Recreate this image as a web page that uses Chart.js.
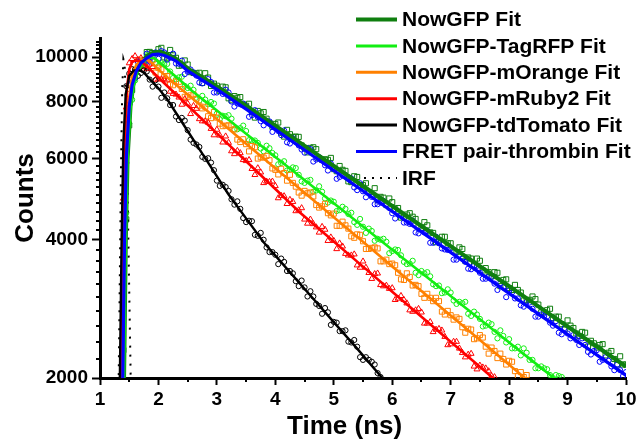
<!DOCTYPE html>
<html><head><meta charset="utf-8">
<script src="https://cdn.jsdelivr.net/npm/chart.js@4.4.1/dist/chart.umd.min.js"></script>
<style>html,body{margin:0;padding:0;background:#fff}#wrap{width:636px;height:445px}</style>
</head><body><div id="wrap"><canvas id="c" width="636" height="445"></canvas></div>
<script>
// ---------- data ----------
const timeNs = [1.4,1.5,1.6,1.7,1.8,1.9,2.0,2.1,2.2,2.3,2.4,2.5,2.6,2.7,2.8,2.9,3.0,3.1,3.2,3.3,3.4,3.5,3.6,3.7,3.8,3.9,4.0,4.1,4.2,4.3,4.4,4.5,4.6,4.7,4.8,4.9,5.0,5.1,5.2,5.3,5.4,5.5,5.6,5.7,5.8,5.9,6.0,6.1,6.2,6.3,6.4,6.5,6.6,6.7,6.8,6.9,7.0,7.1,7.2,7.3,7.4,7.5,7.6,7.7,7.8,7.9,8.0,8.1,8.2,8.3,8.4,8.5,8.6,8.7,8.8,8.9,9.0,9.1,9.2,9.3,9.4,9.5,9.6,9.7,9.8,9.9,10.0];
const timeNsHalf = [1.45,1.55,1.65,1.75,1.85,1.95,2.05,2.15,2.25,2.35,2.45,2.55,2.65,2.75,2.85,2.95,3.05,3.15,3.25,3.35,3.45,3.55,3.65,3.75,3.85,3.95,4.05,4.15,4.25,4.35,4.45,4.55,4.65,4.75,4.85,4.95,5.05,5.15,5.25,5.35,5.45,5.55,5.65,5.75,5.85,5.95,6.05,6.15,6.25,6.35,6.45,6.55,6.65,6.75,6.85,6.95,7.05,7.15,7.25,7.35,7.45,7.55,7.65,7.75,7.85,7.95,8.05,8.15,8.25,8.35,8.45,8.55,8.65,8.75,8.85,8.95,9.05,9.15,9.25,9.35,9.45,9.55,9.65,9.75,9.85,9.95];

const nowGFPCounts = [2300,7100,9250,9650,10250,10200,10400,9980,10360,9960,
 9590,9630,9230,9240,9220,8650,8660,8620,8130,8220,
 8180,7830,7600,7630,7590,7190,7150,6840,6940,6700,
 6700,6340,6340,6300,5970,5970,5700,5790,5650,5340,
 5480,5260,5080,5180,4960,4760,4830,4690,4490,4570,
 4440,4240,4300,4140,3990,4060,3930,3760,3820,3660,
 3520,3600,3470,3330,3390,3270,3140,3190,3070,2950,
 3010,2890,2780,2830,2720,2620,2670,2570,2470,2510,
 2410,2330,2370,2270,2200,2230,2140];
const nowGFPCountsHalf = [4430,8480,9480,9620,10260,10190,10470,9940,10080,9570,
 9830,9270,9210,8780,9020,8750,8440,8590,8050,8150,
 7880,7910,7380,7540,7340,7050,7200,6710,6790,6710,
 6420,6200,6360,6020,5990,6030,5640,5680,5360,5500,
 5260,5310,5010,4880,4940,4920,4660,4470,4540,4490,
 4270,4370,4150,3950,4060,3930,3770,3850,3600,3640,
 3640,3430,3400,3400,3170,3280,3110,3110,2950,2960,
 2970,2780,2810,2700,2720,2550,2600,2500,2520,2340,
 2380,2360,2240,2290,2140,2140];

const tagRFPCounts = [null,7170,8890,9640,10090,9860,9550,9650,9300,8940,
 9060,8560,8480,8030,8080,7980,7530,7450,7470,6950,
 7000,6900,6580,6500,6230,6330,6110,5880,5660,5750,
 5540,5320,5400,5120,5090,4820,4840,4640,4670,4580,
 4310,4270,4230,3980,4000,3960,3780,3800,3580,3550,
 3390,3420,3400,3200,3180,3070,3070,2900,2910,2760,
 2790,2690,2600,2620,2440,2470,2430,2320,2240,2270,
 2190,2100,2100,2030,2030,2010];
const tagRFPCountsHalf = [4580,8070,9560,9640,10030,9660,9690,9660,9000,9030,
 8650,8660,8080,8230,7890,7920,7330,7430,7340,6960,
 7090,6590,6580,6320,6410,6180,5840,5930,5690,5730,
 5360,5380,5090,5230,4920,4870,4620,4720,4550,4370,
 4440,4140,4180,4020,4020,3740,3810,3700,3540,3600,
 3350,3380,3330,3170,3060,3120,2950,2930,2930,2730,
 2750,2590,2640,2520,2540,2390,2320,2340,2320,2190,
 2100,2120,2090,2000,2020];

const mOrangeCounts = [null,8310,9360,9860,9660,9840,9480,9090,8720,8850,
 8520,8180,8290,7840,7790,7360,7380,7070,7100,6960,
 6530,6460,6400,6010,6040,5960,5680,5710,5380,5320,
 5070,5110,5070,4760,4730,4570,4560,4290,4300,4070,
 4110,3970,3820,3850,3590,3620,3550,3390,3270,3320,
 3190,3050,3050,2940,2940,2750,2740,2710,2580,2560,
 2430,2480,2340,2330,2210,2200,2180,2070,2060,2030];
const mOrangeCountsHalf = [7080,8920,9810,9850,9960,9250,9400,9090,8680,8830,
 8190,8250,8110,7730,7430,7590,7160,7090,7100,6610,
 6620,6230,6360,6050,6090,5720,5550,5590,5540,5220,
 4990,5050,4970,4700,4790,4520,4290,4380,4230,4040,
 4100,3820,3840,3830,3590,3540,3520,3280,3380,3180,
 3170,2990,2990,2990,2790,2800,2680,2690,2510,2550,
 2440,2450,2260,2290,2260,2140,2170,2020,2010];

const mRuby2Counts = [4920,9700,10050,9950,9420,9520,8950,8950,8410,8290,
 7880,7920,7830,7330,7250,6980,6950,6520,6510,6150,
 6180,5940,5710,5730,5320,5350,5240,4990,4790,4840,
 4640,4430,4430,4260,4270,3980,3980,3930,3730,3700,
 3520,3590,3390,3370,3190,3180,3140,2980,2960,2810,
 2810,2780,2630,2520,2560,2460,2370,2400,2270,2250,
 2120,2130,2100,2020];
const mRuby2CountsHalf = [7770,9910,9860,9510,9640,8930,8950,8900,8320,8170,
 8100,7520,7720,7250,7200,6760,6750,6720,6240,6250,
 5970,5970,5540,5610,5360,5360,4930,4980,4890,4620,
 4690,4340,4330,4150,4210,4050,3820,3870,3700,3720,
 3480,3480,3290,3380,3170,3130,2960,3020,2910,2790,
 2830,2630,2650,2550,2540,2360,2400,2320,2220,2260,
 2090,2110,2070,2010];

const tdTomatoCounts = [null,9200,9380,9230,9300,8620,8620,8370,7860,7420,
 7370,6930,6500,6370,6000,5890,5380,5270,5110,4770,
 4670,4370,4390,4080,4000,3760,3710,3640,3420,3380,
 3170,3150,3090,2900,2760,2780,2650,2530,2540,2390,
 2340,2190,2190,2140,2010];
const tdTomatoCountsHalf = [8640,9410,9100,9350,8930,8900,8150,8130,7860,7290,
 7270,6610,6450,6060,6020,5670,5240,5210,4900,4850,
 4460,4400,4100,4140,3850,3760,3540,3580,3420,3250,
 3260,3010,3010,2870,2840,2610,2640,2530,2400,2420,
 2220,2220,2170,2050];

const fretCounts = [3100,7880,8990,9760,10170,10030,9910,10230,9970,9680,
 9820,9290,9260,8800,8900,8820,8370,8310,8370,7800,
 7890,7810,7470,7400,7100,7240,7010,6760,6520,6650,
 6420,6190,6300,5980,5970,5660,5700,5480,5530,5440,
 5130,5100,5070,4780,4820,4780,4570,4610,4360,4330,
 4150,4200,4180,3940,3930,3810,3830,3620,3640,3460,
 3510,3390,3290,3320,3110,3150,3100,2980,2880,2930,
 2830,2720,2730,2640,2660,2490,2500,2480,2360,2360,
 2250,2300,2190,2180,2080,2080,2060];
const fretCountsHalf = [5880,8810,9770,9780,9770,10230,10300,9870,10170,9670,
 9180,9390,9110,8760,8950,8370,8480,8490,8000,7920,
 7920,7410,7660,7250,7250,6870,6900,6920,6480,6530,
 6290,6330,5920,6050,5810,5860,5430,5520,5470,5200,
 5310,4950,4960,4780,4860,4690,4450,4530,4360,4400,
 4130,4150,3940,4060,3830,3800,3620,3710,3580,3450,
 3510,3290,3320,3210,3220,3000,3070,2980,2860,2920,
 2720,2750,2720,2600,2510,2570,2440,2420,2440,2280,
 2290,2170,2220,2120,2140,2020];

// fit curves
const fitTimeNowGFP = [1.38,1.41,1.44,1.47,1.52,1.57,1.64,1.72,1.82,1.92,2.00,2.10,2.20,2.30,2.40,2.50,2.75,3.00,3.50,4.00,4.50,5.00,5.50,6.00,6.50,7.00,7.50,8.00,8.50,9.00,9.50,10.00];
const fitNowGFP = [1200,2000,4000,6000,7800,8700,9400,9800,10080,10230,10260,10185,10060,9912,9684,9443,9030,8622,7828,7081,6404,5791,5237,4736,4284,3874,3504,3168,2864,2590,2342,2118];

const fitTimeTagRFP = [1.38,1.41,1.44,1.47,1.52,1.57,1.64,1.72,1.82,1.88,1.95,2.02,2.10,2.20,2.30,2.40,2.54,3.00,3.50,4.00,4.50,5.00,5.50,6.00,6.50,7.00,7.50,8.00,8.50,9.00];
const fitTagRFP = [1200,2000,4000,6000,7700,8600,9250,9650,9940,9980,9900,9740,9530,9290,9060,8830,8510,7647,6807,6060,5395,4803,4275,3806,3389,3017,2685,2390,2128,1895];

const fitTimeMOrange = [1.35,1.38,1.41,1.44,1.49,1.55,1.62,1.70,1.78,1.85,1.92,2.00,2.10,2.25,2.50,3.00,3.50,4.00,4.50,5.00,5.50,6.00,6.50,7.00,7.50,8.00,8.50];
const fitMOrange = [1200,2000,4000,6000,8000,9100,9600,9850,9900,9800,9620,9400,9150,8813,8287,7326,6477,5728,5064,4477,3958,3500,3094,2736,2419,2138,1890];

const fitTimeMRuby2 = [1.33,1.36,1.39,1.42,1.46,1.50,1.55,1.62,1.70,1.80,1.975,2.20,2.50,3.00,3.50,4.00,4.42,5.00,5.50,6.00,6.50,7.00,7.50,8.00];
const fitMRuby2 = [1200,2000,4000,6500,8500,9400,9750,9850,9780,9560,9080,8527,7842,6820,5931,5158,4585,3963,3496,3083,2720,2398,2115,1865];

const fitTimeTdTomato = [1.31,1.34,1.37,1.40,1.44,1.50,1.58,1.68,1.75,1.85,2.00,2.15,2.50,2.80,3.20,3.50,3.80,4.20,4.60,5.00,5.40,5.83,6.00];
const fitTdTomato = [1200,2000,4000,6500,8300,9100,9350,9350,9250,8950,8550,8090,6900,6021,5020,4452,3949,3456,3025,2647,2317,2000,1890];

const fitTimeFret = [1.36,1.39,1.42,1.45,1.50,1.55,1.62,1.70,1.80,1.90,2.00,2.10,2.20,2.30,2.40,2.50,2.75,3.00,3.50,4.00,4.50,5.00,5.50,6.00,6.50,7.00,7.50,8.00,8.50,9.00,9.50,10.00];
const fitFret = [1200,2000,4000,6000,7800,8700,9300,9700,9950,10120,10150,10080,9950,9800,9570,9330,8910,8500,7700,6950,6272,5660,5108,4609,4160,3754,3388,3057,2758,2489,2246,2027];

const irfTime = [1.28,1.30,1.32,1.34,1.36,1.38,1.40,1.42,1.44,1.46,1.48,1.50,1.52,1.54,1.56];
const irfCounts = [600,1200,2000,3400,5800,8500,9900,9700,8300,6200,4400,3100,2200,1500,1000];

const xMajorTicks = [1,2,3,4,5,6,7,8,9,10];
const yMajorTicks = [2000,4000,6000,8000,10000];
const seriesLabels = ['NowGFP Fit','NowGFP-TagRFP Fit','NowGFP-mOrange Fit','NowGFP-mRuby2 Fit','NowGFP-tdTomato Fit','FRET pair-thrombin Fit','IRF'];

// ---------- styling ----------
const FF = "'Liberation Sans', Arial, Helvetica, sans-serif";
const C = {now:'#0f7f0f', tag:'#12ee12', orange:'#ff8000', red:'#ff0000', black:'#000000', blue:'#0000ff'};

function pts(t, v){ const o=[]; for(let i=0;i<t.length;i++){ if(v[i]!=null) o.push({x:t[i], y:v[i]}); } return o; }
function fit(label, t, v, color, w, li){ return {label, data:pts(t,v), borderColor:color, backgroundColor:color, borderWidth:w, pointRadius:0, showLine:true, tension:0, legendIndex:li}; }
function scat(v, vh, color, style, r){ return {label:'', data:pts(timeNs,v).concat(pts(timeNsHalf,vh)), showLine:false, pointStyle:style, pointRadius:r, pointBorderWidth:1, pointBorderColor:color, pointBackgroundColor:'rgba(0,0,0,0)', borderColor:color}; }

const datasets = [
  fit(seriesLabels[5], fitTimeFret, fitFret, C.blue, 3.2, 5),
  fit(seriesLabels[4], fitTimeTdTomato, fitTdTomato, C.black, 2.4, 4),
  fit(seriesLabels[3], fitTimeMRuby2, fitMRuby2, C.red, 2.6, 3),
  fit(seriesLabels[2], fitTimeMOrange, fitMOrange, C.orange, 2.6, 2),
  fit(seriesLabels[1], fitTimeTagRFP, fitTagRFP, C.tag, 2.6, 1),
  fit(seriesLabels[0], fitTimeNowGFP, fitNowGFP, C.now, 4.2, 0),
  Object.assign(fit(seriesLabels[6], irfTime, irfCounts, '#000', 2, 6), {borderDash:[2,7]}),
  scat(fretCounts, fretCountsHalf, C.blue, 'circle', 2.6),
  scat(tdTomatoCounts, tdTomatoCountsHalf, C.black, 'circle', 2.6),
  scat(mRuby2Counts, mRuby2CountsHalf, C.red, 'triangle', 3.4),
  scat(mOrangeCounts, mOrangeCountsHalf, C.orange, 'rect', 3.6),
  scat(tagRFPCounts, tagRFPCountsHalf, C.tag, 'circle', 2.6),
  scat(nowGFPCounts, nowGFPCountsHalf, C.now, 'rect', 3.6)
];

const decorations = {
  id:'decorations',
  afterDraw(chart){
    const ctx = chart.ctx, a = chart.chartArea, xs = chart.scales.x, ys = chart.scales.y;
    ctx.save();
    ctx.strokeStyle = '#000'; ctx.lineWidth = 2;
    ctx.beginPath();
    for (let v = 2200; v < 11000; v += 200) {
      if (v % 2000 === 0) continue;
      const py = Math.round(ys.getPixelForValue(v));
      ctx.moveTo(a.left, py); ctx.lineTo(a.left - 4, py);
    }
    for (let v = 1.5; v < 10; v += 1) {
      const px = Math.round(xs.getPixelForValue(v));
      ctx.moveTo(px, a.bottom); ctx.lineTo(px, a.bottom + 4);
    }
    ctx.stroke();
    ctx.fillStyle = '#000';
    ctx.font = 'bold 26px ' + FF;
    ctx.textAlign = 'center'; ctx.textBaseline = 'alphabetic';
    ctx.fillText('Time (ns)', a.left + (a.right - a.left) * 0.465, 434);
    ctx.translate(33, (a.top + a.bottom) / 2 - 10);
    ctx.rotate(-Math.PI / 2);
    ctx.fillText('Counts', 0, 0);
    ctx.restore();
    ctx.save();
    const items = chart.data.datasets.filter(d => d.legendIndex != null).sort((p, q) => p.legendIndex - q.legendIndex);
    ctx.font = 'bold 21px ' + FF;
    ctx.textAlign = 'left'; ctx.textBaseline = 'middle';
    items.forEach((d, i) => {
      const y = 19.5 + i * 26.4;
      const dotted = !!d.borderDash;
      ctx.strokeStyle = d.borderColor; ctx.lineWidth = dotted ? 2 : (d.legendIndex === 0 ? 4 : 3);
      ctx.setLineDash(dotted ? [2, 6] : []);
      ctx.beginPath(); ctx.moveTo(dotted ? 364 : 356, y); ctx.lineTo(397, y); ctx.stroke();
      ctx.setLineDash([]);
      ctx.fillStyle = '#000';
      ctx.fillText(d.label, 402, y + 1);
    });
    ctx.restore();
  }
};

function noPad(s){ s.paddingLeft = 0; s.paddingRight = 0; s.paddingTop = 0; s.paddingBottom = 0; }

new Chart(document.getElementById('c'), {
  type: 'line',
  data: { datasets },
  plugins: [decorations],
  options: {
    responsive: false, animation: false, devicePixelRatio: 1,
    layout: { padding: { top: 38, right: 10, left: 0, bottom: 0 } },
    plugins: { legend: { display: false }, tooltip: { enabled: false } },
    scales: {
      x: {
        type: 'linear', min: 1, max: 10,
        afterFit(s) { s.height = 67; noPad(s); },
        afterBuildTicks(s) { s.ticks = xMajorTicks.map(v => ({ value: v })); },
        ticks: { font: { family: FF, size: 19, weight: 'bold' }, color: '#000', padding: 3, maxRotation: 0, autoSkip: false, callback: v => String(v) },
        grid: { drawOnChartArea: false, drawTicks: true, tickLength: 7, tickWidth: 2, tickColor: '#000', color: '#000' },
        border: { display: true, color: '#000', width: 3 }
      },
      y: {
        type: 'logarithmic', min: 2000, max: 11000,
        afterFit(s) { s.width = 100; noPad(s); },
        afterBuildTicks(s) { s.ticks = yMajorTicks.map(v => ({ value: v })); },
        ticks: { font: { family: FF, size: 19, weight: 'bold' }, color: '#000', padding: 4, autoSkip: false, callback: v => String(v) },
        grid: { drawOnChartArea: false, drawTicks: true, tickLength: 8, tickWidth: 2, tickColor: '#000', color: '#000' },
        border: { display: true, color: '#000', width: 3 }
      }
    }
  }
});
</script></body></html>
